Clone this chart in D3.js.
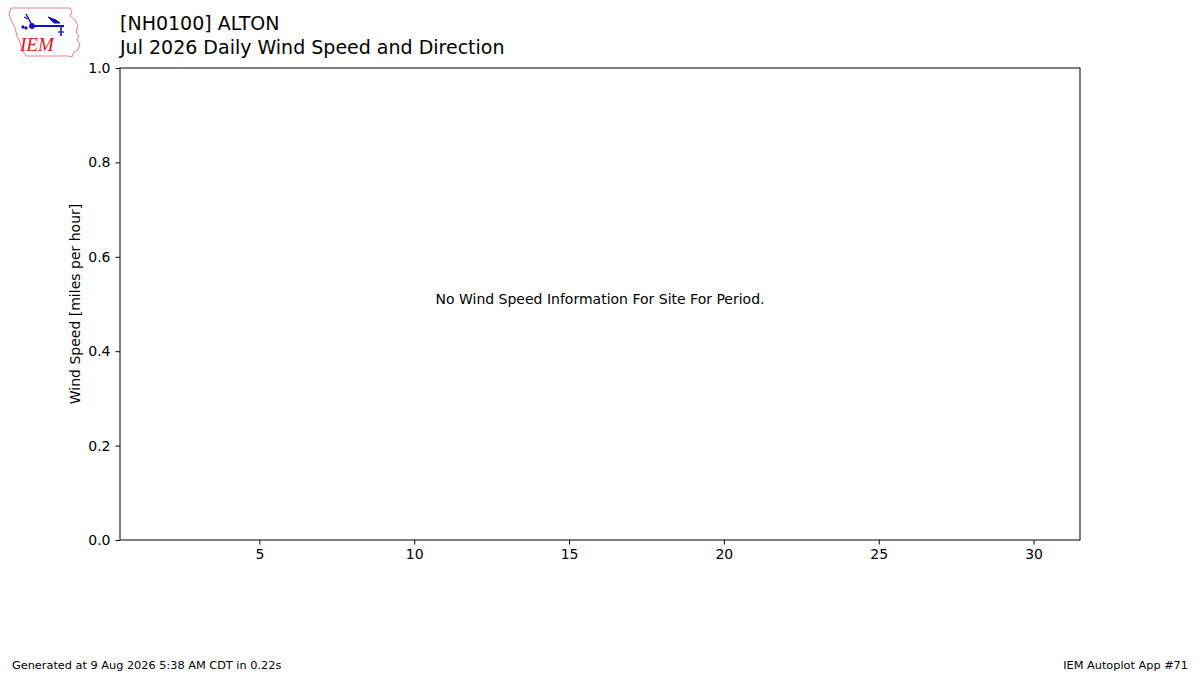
<!DOCTYPE html>
<html>
<head>
<meta charset="utf-8">
<script src="https://cdn.jsdelivr.net/npm/d3@7"></script>
<style>
  body { margin: 0; background: #fff; }
  svg { font-family: "DejaVu Sans", sans-serif; }
</style>
</head>
<body>
<div class="chart"></div>
<script>
// station / period
const titleLines = ['[NH0100] ALTON', 'Jul 2026 Daily Wind Speed and Direction'];
const days = [];        // no observations for the period
const avgSpeed = [];
const xTicks = [5, 10, 15, 20, 25, 30];
const yTicks = [0, 0.2, 0.4, 0.6, 0.8, 1.0];
const xDomain = [0.5, 31.5];
const yDomain = [0, 1];
const noDataMsg = 'No Wind Speed Information For Site For Period.';
const footerLeft = 'Generated at 9 Aug 2026 5:38 AM CDT in 0.22s';
const footerRight = 'IEM Autoplot App #71';

const W = 1200, H = 675;
const m = {left: 120, right: 120, top: 68, bottom: 135};

const svg = d3.select('.chart')
    .append('svg')
    .attr('width', W)
    .attr('height', H);

const x = d3.scaleLinear().domain(xDomain).range([m.left, W - m.right]);
const y = d3.scaleLinear().domain(yDomain).range([H - m.bottom, m.top]);

// logo
const logo = svg.append('g').attr('transform', 'translate(8,6)');
logo.append('path')
    .attr('d', 'M3,2 L62,2 L64,6 L62,10 L67,14 L70,20 L68,26 L71,30 L69,34 L72,38 L70,44 L66,46 L64,51 L60,50 L18,50 L14,44 L12,36 L9,30 L7,22 L3,14 L1,8 Z')
    .attr('fill', 'none')
    .attr('stroke', '#e88080')
    .attr('stroke-width', 1);
const vane = logo.append('g').attr('stroke', '#1010c0').attr('fill', '#1010c0');
vane.append('line').attr('x1', 24).attr('y1', 20).attr('x2', 56).attr('y2', 20).attr('stroke-width', 2);
vane.append('circle').attr('cx', 24).attr('cy', 20).attr('r', 2.5);
vane.append('path').attr('d', 'M40,11 L48,14 L52,17 L46,17 Z');
vane.append('line').attr('x1', 18).attr('y1', 8).attr('x2', 24).attr('y2', 19).attr('stroke-width', 1.5);
vane.append('line').attr('x1', 16).attr('y1', 11).attr('x2', 20).attr('y2', 13).attr('stroke-width', 1.2);
vane.append('line').attr('x1', 53).attr('y1', 20).attr('x2', 53).attr('y2', 30).attr('stroke-width', 1.5);
vane.append('line').attr('x1', 50).attr('y1', 26).attr('x2', 56).attr('y2', 26).attr('stroke-width', 1.2);
vane.append('circle').attr('cx', 15).attr('cy', 21).attr('r', 1.2);
vane.append('circle').attr('cx', 18).attr('cy', 22).attr('r', 1.2);
logo.append('text')
    .attr('x', 12)
    .attr('y', 45)
    .style('font-family', '"Liberation Serif", serif')
    .style('font-style', 'italic')
    .style('font-size', '19px')
    .attr('fill', '#d02020')
    .text('IEM');

// titles
svg.selectAll('.title')
    .data(titleLines)
    .enter()
    .append('text')
    .attr('class', 'title')
    .attr('x', m.left)
    .attr('y', (d, i) => 30 + i * 24)
    .style('font-size', '19px')
    .text(d => d);

// axes
svg.append('g')
    .attr('transform', `translate(0,${H - m.bottom})`)
    .call(d3.axisBottom(x).tickValues(xTicks).tickSize(4.5).tickPadding(5).tickFormat(d3.format('d')))
    .call(g => g.select('.domain').remove());
svg.append('g')
    .attr('transform', `translate(${m.left},0)`)
    .call(d3.axisLeft(y).tickValues(yTicks).tickSize(4.5).tickPadding(5).tickFormat(d3.format('.1f')))
    .call(g => g.select('.domain').remove());
svg.selectAll('.tick text')
    .style('font-family', '"DejaVu Sans", sans-serif')
    .style('font-size', '14px')
    .attr('fill', '#000');
svg.selectAll('.tick line').attr('stroke', '#000').attr('stroke-width', 1);

// frame
svg.append('rect')
    .attr('x', m.left)
    .attr('y', m.top)
    .attr('width', W - m.left - m.right)
    .attr('height', H - m.top - m.bottom)
    .attr('fill', 'none')
    .attr('stroke', '#000')
    .attr('stroke-width', 1);

// bars (none for this period)
svg.selectAll('.bar')
    .data(days.map((d, i) => ({day: d, v: avgSpeed[i]})))
    .enter()
    .append('rect')
    .attr('class', 'bar')
    .attr('x', d => x(d.day - 0.4))
    .attr('width', x(0.8) - x(0))
    .attr('y', d => y(d.v))
    .attr('height', d => y(0) - y(d.v))
    .attr('fill', '#3b78b6');

svg.append('text')
    .attr('transform', `translate(80,${(m.top + H - m.bottom) / 2}) rotate(-90)`)
    .attr('text-anchor', 'middle')
    .style('font-size', '14px')
    .text('Wind Speed [miles per hour]');

if (days.length === 0) {
    svg.append('text')
        .attr('x', x(16))
        .attr('y', y(0.5))
        .attr('text-anchor', 'middle')
        .style('font-size', '14px')
        .text(noDataMsg);
}

// footer
svg.append('text')
    .attr('x', 12)
    .attr('y', 669)
    .style('font-size', '11.3px')
    .text(footerLeft);
svg.append('text')
    .attr('x', 1188)
    .attr('y', 669)
    .attr('text-anchor', 'end')
    .style('font-size', '11.3px')
    .text(footerRight);
</script>
</body>
</html>
